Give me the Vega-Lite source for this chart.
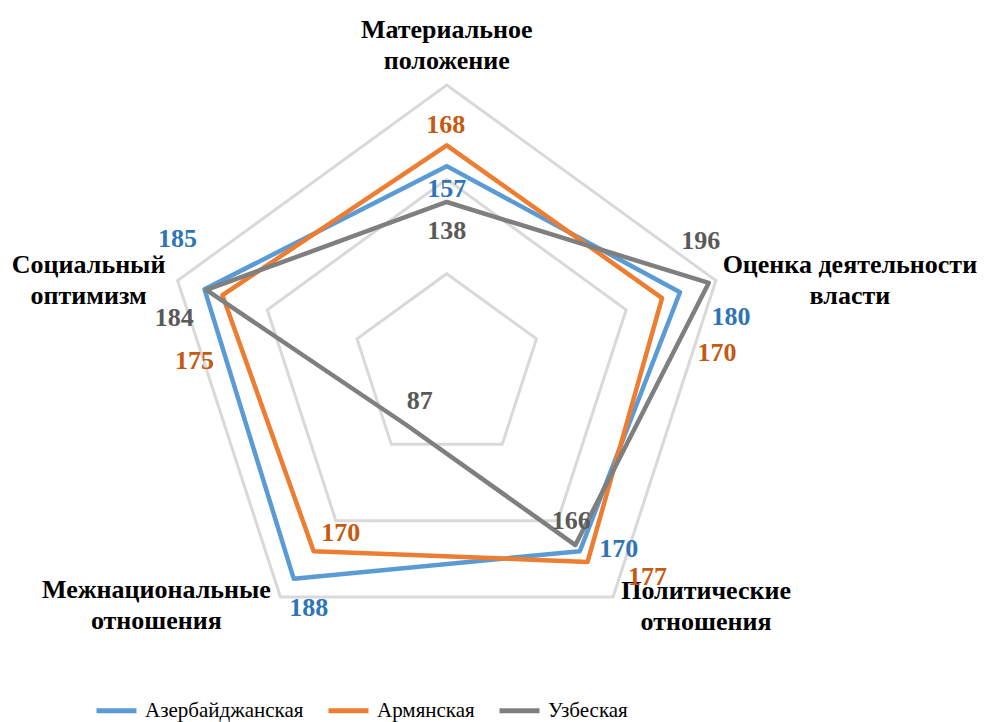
{
  "$schema": "https://vega.github.io/schema/vega-lite/v6.json",
  "autosize": "none",
  "width": 988,
  "height": 722,
  "padding": 0,
  "background": "white",
  "config": {"view": {"stroke": null}, "legend": {"labelFont": "Liberation Serif", "labelFontSize": 21, "labelLimit": 0}},
  "datasets": {
    "series": [
      {"series": "Азербайджанская", "axis": "Материальное положение", "value": 157},
      {"series": "Азербайджанская", "axis": "Оценка деятельности власти", "value": 180},
      {"series": "Азербайджанская", "axis": "Политические отношения", "value": 170},
      {"series": "Азербайджанская", "axis": "Межнациональные отношения", "value": 188},
      {"series": "Азербайджанская", "axis": "Социальный оптимизм", "value": 185},
      {"series": "Армянская", "axis": "Материальное положение", "value": 168},
      {"series": "Армянская", "axis": "Оценка деятельности власти", "value": 170},
      {"series": "Армянская", "axis": "Политические отношения", "value": 177},
      {"series": "Армянская", "axis": "Межнациональные отношения", "value": 170},
      {"series": "Армянская", "axis": "Социальный оптимизм", "value": 175},
      {"series": "Узбеская", "axis": "Материальное положение", "value": 138},
      {"series": "Узбеская", "axis": "Оценка деятельности власти", "value": 196},
      {"series": "Узбеская", "axis": "Политические отношения", "value": 166},
      {"series": "Узбеская", "axis": "Межнациональные отношения", "value": 87},
      {"series": "Узбеская", "axis": "Социальный оптимизм", "value": 184}
    ],
    "grid": [
      {"level": 100, "axis": "Материальное положение"},
      {"level": 100, "axis": "Оценка деятельности власти"},
      {"level": 100, "axis": "Политические отношения"},
      {"level": 100, "axis": "Межнациональные отношения"},
      {"level": 100, "axis": "Социальный оптимизм"},
      {"level": 150, "axis": "Материальное положение"},
      {"level": 150, "axis": "Оценка деятельности власти"},
      {"level": 150, "axis": "Политические отношения"},
      {"level": 150, "axis": "Межнациональные отношения"},
      {"level": 150, "axis": "Социальный оптимизм"},
      {"level": 200, "axis": "Материальное положение"},
      {"level": 200, "axis": "Оценка деятельности власти"},
      {"level": 200, "axis": "Политические отношения"},
      {"level": 200, "axis": "Межнациональные отношения"},
      {"level": 200, "axis": "Социальный оптимизм"}
    ],
    "cats": [
      {"axis": "Материальное положение", "label": ["Материальное", "положение"]},
      {"axis": "Оценка деятельности власти", "label": ["Оценка деятельности", "власти"]},
      {"axis": "Политические отношения", "label": ["Политические", "отношения"]},
      {"axis": "Межнациональные отношения", "label": ["Межнациональные", "отношения"]},
      {"axis": "Социальный оптимизм", "label": ["Социальный", "оптимизм"]}
    ]
  },
  "layer": [
    {
      "data": {"name": "grid"},
      "transform": [
        {"calculate": "indexof(['Материальное положение','Оценка деятельности власти','Политические отношения','Межнациональные отношения','Социальный оптимизм'], datum.axis)", "as": "k"},
        {"calculate": "(datum.level-50)*sin(datum.k*2*PI/5)", "as": "x"},
        {"calculate": "(datum.level-50)*cos(datum.k*2*PI/5)", "as": "y"}
      ],
      "mark": {"type": "line", "interpolate": "linear-closed", "stroke": "#D9D9D9", "strokeWidth": 3},
      "encoding": {
        "x": {"field": "x", "type": "quantitative", "scale": {"domain": [-236.8, 286.9], "nice": false, "zero": false}, "axis": null},
        "y": {"field": "y", "type": "quantitative", "scale": {"domain": [-187.6, 195.05], "nice": false, "zero": false}, "axis": null},
        "detail": {"field": "level", "type": "nominal"},
        "order": {"field": "k", "type": "quantitative"}
      }
    },
    {
      "data": {"name": "cats"},
      "transform": [
        {"calculate": "indexof(['Материальное положение','Оценка деятельности власти','Политические отношения','Межнациональные отношения','Социальный оптимизм'], datum.axis)", "as": "k"},
        {"calculate": "150*sin(datum.k*2*PI/5)", "as": "x"},
        {"calculate": "150*cos(datum.k*2*PI/5)", "as": "y"}
      ],
      "encoding": {
        "x": {"field": "x", "type": "quantitative", "scale": {"domain": [-236.8, 286.9], "nice": false, "zero": false}, "axis": null},
        "y": {"field": "y", "type": "quantitative", "scale": {"domain": [-187.6, 195.05], "nice": false, "zero": false}, "axis": null},
        "text": {"field": "label"}
      },
      "layer": [
        {"transform": [{"filter": "datum.k==0"}], "mark": {"type": "text", "font": "Liberation Serif", "fontWeight": "bold", "fontSize": 26, "lineHeight": 31, "align": "center", "baseline": "alphabetic", "color": "#000000", "dx": 0, "dy": -47}},
        {"transform": [{"filter": "datum.k==1"}], "mark": {"type": "text", "font": "Liberation Serif", "fontWeight": "bold", "fontSize": 26, "lineHeight": 31, "align": "center", "baseline": "alphabetic", "color": "#000000", "dx": 134, "dy": -8}},
        {"transform": [{"filter": "datum.k==2"}], "mark": {"type": "text", "font": "Liberation Serif", "fontWeight": "bold", "fontSize": 26, "lineHeight": 31, "align": "center", "baseline": "alphabetic", "color": "#000000", "dx": 93, "dy": 2}},
        {"transform": [{"filter": "datum.k==3"}], "mark": {"type": "text", "font": "Liberation Serif", "fontWeight": "bold", "fontSize": 26, "lineHeight": 31, "align": "center", "baseline": "alphabetic", "color": "#000000", "dx": -124, "dy": 1}},
        {"transform": [{"filter": "datum.k==4"}], "mark": {"type": "text", "font": "Liberation Serif", "fontWeight": "bold", "fontSize": 26, "lineHeight": 31, "align": "center", "baseline": "alphabetic", "color": "#000000", "dx": -89, "dy": -8}}
      ]
    },
    {
      "data": {"name": "series"},
      "transform": [
        {"calculate": "indexof(['Материальное положение','Оценка деятельности власти','Политические отношения','Межнациональные отношения','Социальный оптимизм'], datum.axis)", "as": "k"},
        {"calculate": "(datum.value-50)*sin(datum.k*2*PI/5)", "as": "x"},
        {"calculate": "(datum.value-50)*cos(datum.k*2*PI/5)", "as": "y"}
      ],
      "encoding": {
        "x": {"field": "x", "type": "quantitative", "scale": {"domain": [-236.8, 286.9], "nice": false, "zero": false}, "axis": null},
        "y": {"field": "y", "type": "quantitative", "scale": {"domain": [-187.6, 195.05], "nice": false, "zero": false}, "axis": null}
      },
      "layer": [
        {
          "mark": {"type": "line", "interpolate": "linear-closed", "strokeWidth": 4.5, "strokeJoin": "round", "strokeCap": "round"},
          "encoding": {
            "color": {
              "field": "series", "type": "nominal",
              "scale": {"domain": ["Азербайджанская", "Армянская", "Узбеская"], "range": ["#5B9BD5", "#ED7D31", "#7F7F7F"]},
              "legend": {
                "title": null, "orient": "none", "legendX": 94, "legendY": 688, "direction": "horizontal",
                "symbolType": "stroke", "symbolSize": 1600, "symbolStrokeWidth": 5,
                "labelFont": "Liberation Serif", "labelFontSize": 21, "labelFontWeight": "normal", "labelLimit": 0, "labelColor": "#000000",
                "columnPadding": 14, "labelOffset": 6, "padding": 0
              }
            },
            "order": {"field": "k", "type": "quantitative"}
          }
        },
        {"transform": [{"filter": "datum.series=='Азербайджанская' && datum.k==0"}], "mark": {"type": "text", "font": "Liberation Serif", "fontWeight": "bold", "fontSize": 26, "color": "#2E75B6", "baseline": "middle", "dx": 0, "dy": 23}, "encoding": {"text": {"field": "value"}}},
        {"transform": [{"filter": "datum.series=='Азербайджанская' && datum.k==1"}], "mark": {"type": "text", "font": "Liberation Serif", "fontWeight": "bold", "fontSize": 26, "color": "#2E75B6", "baseline": "middle", "dx": 51, "dy": 25}, "encoding": {"text": {"field": "value"}}},
        {"transform": [{"filter": "datum.series=='Азербайджанская' && datum.k==2"}], "mark": {"type": "text", "font": "Liberation Serif", "fontWeight": "bold", "fontSize": 26, "color": "#2E75B6", "baseline": "middle", "dx": 39, "dy": -2}, "encoding": {"text": {"field": "value"}}},
        {"transform": [{"filter": "datum.series=='Азербайджанская' && datum.k==3"}], "mark": {"type": "text", "font": "Liberation Serif", "fontWeight": "bold", "fontSize": 26, "color": "#2E75B6", "baseline": "middle", "dx": 15, "dy": 29}, "encoding": {"text": {"field": "value"}}},
        {"transform": [{"filter": "datum.series=='Азербайджанская' && datum.k==4"}], "mark": {"type": "text", "font": "Liberation Serif", "fontWeight": "bold", "fontSize": 26, "color": "#2E75B6", "baseline": "middle", "dx": -27, "dy": -50}, "encoding": {"text": {"field": "value"}}},
        {"transform": [{"filter": "datum.series=='Армянская' && datum.k==0"}], "mark": {"type": "text", "font": "Liberation Serif", "fontWeight": "bold", "fontSize": 26, "color": "#C55A11", "baseline": "middle", "dx": -1, "dy": -20}, "encoding": {"text": {"field": "value"}}},
        {"transform": [{"filter": "datum.series=='Армянская' && datum.k==1"}], "mark": {"type": "text", "font": "Liberation Serif", "fontWeight": "bold", "fontSize": 26, "color": "#C55A11", "baseline": "middle", "dx": 55, "dy": 55}, "encoding": {"text": {"field": "value"}}},
        {"transform": [{"filter": "datum.series=='Армянская' && datum.k==2"}], "mark": {"type": "text", "font": "Liberation Serif", "fontWeight": "bold", "fontSize": 26, "color": "#C55A11", "baseline": "middle", "dx": 60, "dy": 15}, "encoding": {"text": {"field": "value"}}},
        {"transform": [{"filter": "datum.series=='Армянская' && datum.k==3"}], "mark": {"type": "text", "font": "Liberation Serif", "fontWeight": "bold", "fontSize": 26, "color": "#C55A11", "baseline": "middle", "dx": 27, "dy": -18}, "encoding": {"text": {"field": "value"}}},
        {"transform": [{"filter": "datum.series=='Армянская' && datum.k==4"}], "mark": {"type": "text", "font": "Liberation Serif", "fontWeight": "bold", "fontSize": 26, "color": "#C55A11", "baseline": "middle", "dx": -28, "dy": 66}, "encoding": {"text": {"field": "value"}}},
        {"transform": [{"filter": "datum.series=='Узбеская' && datum.k==0"}], "mark": {"type": "text", "font": "Liberation Serif", "fontWeight": "bold", "fontSize": 26, "color": "#595959", "baseline": "middle", "dx": 0, "dy": 29}, "encoding": {"text": {"field": "value"}}},
        {"transform": [{"filter": "datum.series=='Узбеская' && datum.k==1"}], "mark": {"type": "text", "font": "Liberation Serif", "fontWeight": "bold", "fontSize": 26, "color": "#595959", "baseline": "middle", "dx": -8, "dy": -42}, "encoding": {"text": {"field": "value"}}},
        {"transform": [{"filter": "datum.series=='Узбеская' && datum.k==2"}], "mark": {"type": "text", "font": "Liberation Serif", "fontWeight": "bold", "fontSize": 26, "color": "#595959", "baseline": "middle", "dx": -4, "dy": -24}, "encoding": {"text": {"field": "value"}}},
        {"transform": [{"filter": "datum.series=='Узбеская' && datum.k==3"}], "mark": {"type": "text", "font": "Liberation Serif", "fontWeight": "bold", "fontSize": 26, "color": "#595959", "baseline": "middle", "dx": 14, "dy": -24}, "encoding": {"text": {"field": "value"}}},
        {"transform": [{"filter": "datum.series=='Узбеская' && datum.k==4"}], "mark": {"type": "text", "font": "Liberation Serif", "fontWeight": "bold", "fontSize": 26, "color": "#595959", "baseline": "middle", "dx": -32, "dy": 28}, "encoding": {"text": {"field": "value"}}}
      ]
    }
  ]
}
